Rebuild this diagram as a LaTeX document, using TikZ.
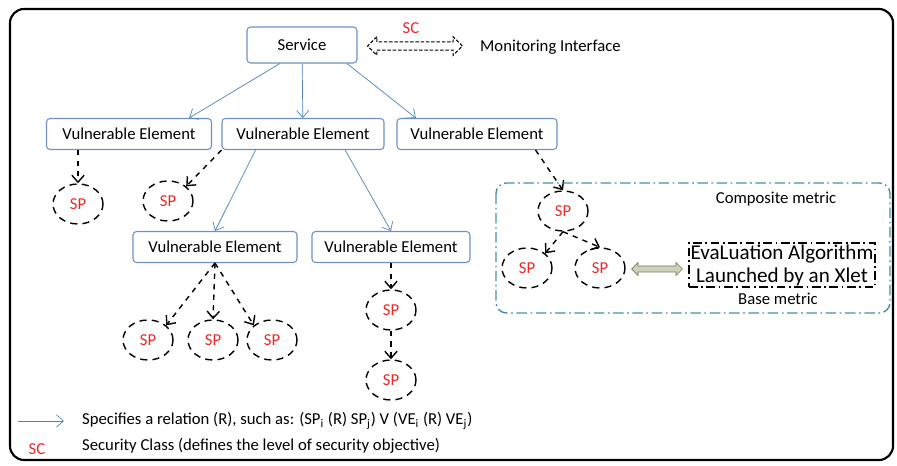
\documentclass[tikz,border=0pt]{standalone}
\usepackage{fontspec}
\setmainfont{Carlito}
\usetikzlibrary{shapes.arrows, shapes.geometric, arrows.meta}

\definecolor{relblue}{RGB}{79,129,189}
\definecolor{boxblue}{RGB}{110,145,195}
\definecolor{metricteal}{RGB}{70,145,160}
\definecolor{spred}{RGB}{235,40,40}
\definecolor{linkgreen}{RGB}{110,120,90}
\definecolor{linkfill}{RGB}{205,210,185}

\begin{document}
\begin{tikzpicture}[x=0.02cm, y=-0.02cm, font=\fontsize{9.5}{11}\selectfont,
  elem/.style={draw=boxblue, semithick, rounded corners=2pt, fill=white, minimum width=3.2cm, minimum height=0.62cm, inner sep=1pt},
  sp/.style={draw, ellipse, thick, dash pattern=on 4pt off 3pt, minimum width=1.0cm, minimum height=0.8cm, inner sep=0pt, text=spred},
  rel/.style={->, relblue, >={Straight Barb[length=4pt, width=7pt]}},
  prop/.style={->, dashed, thick, >={Straight Barb[length=4pt, width=7pt]}}]
\useasboundingbox (0,0) rectangle (897,466);
\draw[very thick, rounded corners=8pt] (10,9) rectangle (893,460);

\node[elem, minimum width=2.2cm, minimum height=0.72cm] (svc) at (302,45) {Service};
\node[text=spred] (sc) at (411,28) {SC};
\node[double arrow, draw, semithick, dash pattern=on 2pt off 1pt, minimum height=1.9cm, inner sep=2pt, double arrow head extend=3pt] (mon) at (415,46) {};
\node[anchor=west] (moni) at (474,47) {Monitoring Interface};

\node[elem, minimum width=3.3cm] (ve1) at (129,134) {Vulnerable Element};
\node[elem, minimum width=3.24cm] (ve2) at (303,134) {Vulnerable Element};
\node[elem] (ve3) at (477,134) {Vulnerable Element};
\node[elem, minimum width=3.28cm] (ve4) at (215,247) {Vulnerable Element};
\node[elem, minimum width=3.16cm] (ve5) at (391,247) {Vulnerable Element};

\draw[rel] ([xshift=19pt]svc.south west) -- ([xshift=-13pt]ve1.north east);
\draw[rel] (svc) -- (ve2);
\draw[rel] ([xshift=-6pt]svc.south east) -- ([xshift=11pt]ve3.north west);
\draw[rel] ([xshift=-27pt]ve2.south) -- (ve4.north);
\draw[rel] ([xshift=24pt]ve2.south) -- (ve5.north);

% Security properties:
\node[sp] (sp1) at (78,204) {SP};
\node[sp] (sp2) at (168,201) {SP};
\node[sp] (sp3) at (148,340) {SP};
\node[sp] (sp4) at (213,340) {SP};
\node[sp] (sp5) at (272,340) {SP};
\node[sp] (sp6) at (391,310) {SP};
\node[sp] (sp7) at (391,380) {SP};
\node[sp] (sp8) at (563,211) {SP};
\node[sp] (sp9) at (527,268) {SP};
\node[sp] (sp10) at (600,268) {SP};

\draw[prop] (ve1.south -| sp1) -- (sp1);
\draw[prop] (ve2.south west) -- (sp2.north east);
\draw[prop] (ve4.south) -- (sp3.north east);
\draw[prop] (ve4.south) -- (sp4.north);
\draw[prop] (ve4.south) -- (sp5.north west);
\draw[prop] (ve5) -- (sp6);
\draw[prop] (sp6) -- (sp7);
\draw[prop] ([xshift=-12.5pt]ve3.south east) -- (sp8.north);
\draw[prop] (sp8.south) -- (sp9.north east);
\draw[prop] (sp8.south) -- (sp10.north);

% Metrics:
\draw[metricteal, thick, dash pattern=on 6pt off 2pt on 1pt off 2pt, rounded corners=6pt] (496,183) rectangle (890,313);
\node (comp) at (776,199) {Composite metric};
\node[draw, thick, dash pattern=on 5pt off 2pt on 1pt off 2pt, inner sep=1pt, font=\fontsize{12}{13}\selectfont, align=center] (algo) at (782,265) {EvaLuation Algorithm\\Launched by an Xlet};
\node (base) at (778,299) {Base metric};
\node[double arrow, draw=linkgreen, fill=linkfill, minimum height=1.02cm, inner sep=1.5pt, double arrow head extend=2pt] (link) at (657,269) {};

% Legend:
\coordinate (lg1) at (18,421);
\coordinate (lg2) at (64,421);
\draw[rel] (lg1) -- (lg2);
\node[anchor=west] (lgt1) at (76,421) {Specifies a relation (R), such as: (SP\textsubscript{i} (R) SP\textsubscript{j}) V (VE\textsubscript{i} (R) VE\textsubscript{j})};
\node[text=spred] (lgsc) at (37,449) {SC};
\node[anchor=west] (lgt2) at (76,446) {Security Class (defines the level of security objective)};
\end{tikzpicture}
\end{document}
